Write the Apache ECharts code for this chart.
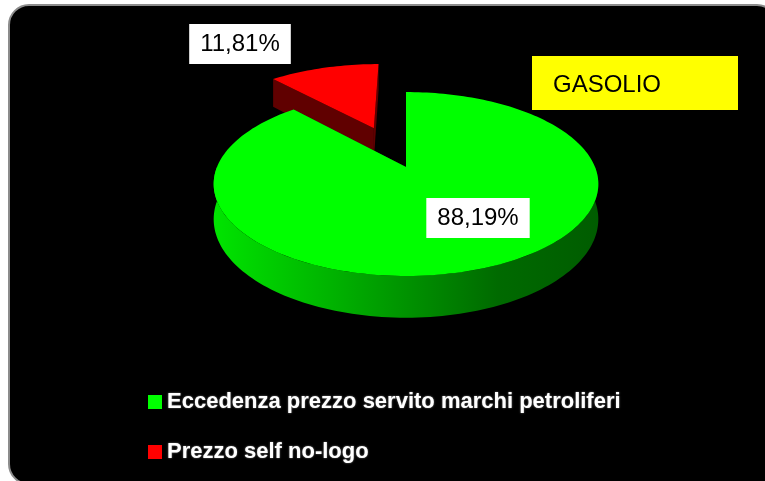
<!DOCTYPE html>
<html>
<head>
<meta charset="utf-8">
<script src="https://cdn.jsdelivr.net/npm/echarts@6/dist/echarts.min.js"></script>
<style>
  html, body { margin: 0; padding: 0; background: #fff; }
  #chart { width: 765px; height: 481px; }
</style>
</head>
<body>
<div id="chart"></div>
<script>
// Data (share of the gap, gasolio)
var categories = ['Eccedenza prezzo servito marchi petroliferi', 'Prezzo self no-logo'];
var values = [88.19, 11.81];
var title = 'GASOLIO';

// Styles / layout
var topColors = ['#00ff00', '#ff0000'];
var explodeBy = [0, 0.51];
var labelPos = [[478, 218], [240, 44]];
var FONT = '"Liberation Sans Narrow", "Liberation Sans", sans-serif';

// Simple perspective projection for a tilted disk.
// u: right, v: away from viewer, h: 0 top face .. 1 bottom face
var CX = 406, CY = 167, A = 88.8, B = 189, K = 0.185, D = 34;
function proj(u, v, h) {
  var s = 1 / (1 + K * v);
  return [CX + B * u * s, CY + (-A * v + D * h) * s];
}

var total = values.reduce(function (a, b) { return a + b; }, 0);
function fmt(v) { return v.toFixed(2).replace('.', ',') + '%'; }

function wallGradient(i) {
  if (i === 0) {
    return new echarts.graphic.LinearGradient(0, 0, 1, 0, [
      { offset: 0, color: '#00e400' },
      { offset: 0.3, color: '#00b400' },
      { offset: 0.56, color: '#008800' },
      { offset: 0.74, color: '#006a00' },
      { offset: 1, color: '#005c00' }
    ]);
  }
  return '#660000';
}

function renderSlice(i, value) {
  var before = 0;
  for (var k = 0; k < i; k++) before += values[k];
  var a0 = before / total * 360, a1 = a0 + value / total * 360;
  var mid = (a0 + a1) / 2 * Math.PI / 180;
  var ou = explodeBy[i] * Math.sin(mid), ov = explodeBy[i] * Math.cos(mid);
  function P(deg, r, h) {
    var t = deg * Math.PI / 180;
    return proj(ou + r * Math.sin(t), ov + r * Math.cos(t), h);
  }
  function arc(from, to, h) {
    var pts = [], n = Math.max(2, Math.ceil(Math.abs(to - from) / 1.5));
    for (var j = 0; j <= n; j++) pts.push(P(from + (to - from) * j / n, 1, h));
    return pts;
  }
  var zb = Math.round((1 - Math.cos(mid)) * 10);
  var wallFill = wallGradient(i);
  var children = [];
  // radial walls
  [a0, a1].forEach(function (ang) {
    children.push({
      type: 'polygon', z2: zb,
      shape: { points: [P(0, 0, 0), P(ang, 1, 0), P(ang, 1, 1), P(0, 0, 1)] },
      style: { fill: i === 0 ? '#007000' : '#600000' }
    });
  });
  // outer wall (front half only)
  var w0 = Math.max(a0, 90), w1 = Math.min(a1, 270);
  if (w1 > w0) {
    var pts = arc(w0, w1, 0).concat(arc(w1, w0, 1));
    children.push({ type: 'polygon', z2: zb + 1, shape: { points: pts }, style: { fill: wallFill } });
  }
  // top face
  children.push({
    type: 'polygon', z2: zb + 2,
    shape: { points: [P(0, 0, 0)].concat(arc(a0, a1, 0)) },
    style: { fill: topColors[i] }
  });
  // value label
  children.push({
    type: 'text', z2: 100,
    style: {
      text: fmt(value), x: labelPos[i][0], y: labelPos[i][1],
      align: 'center', verticalAlign: 'middle',
      font: '24px ' + FONT, fill: '#000',
      backgroundColor: '#fff', padding: [9, 11, 7, 11]
    }
  });
  return { type: 'group', children: children };
}

var chart = echarts.init(document.getElementById('chart'));
chart.setOption({
  animation: false,
  backgroundColor: '#fff',
  graphic: [
    {
      type: 'rect', z: -10, silent: true,
      shape: { x: 9, y: 5, width: 768, height: 479, r: 20 },
      style: { fill: '#000', stroke: '#8c8c8c', lineWidth: 2 }
    },
    {
      type: 'rect', z: 50,
      shape: { x: 532, y: 56, width: 206, height: 54 },
      style: { fill: '#ffff00' }
    },
    {
      type: 'text', z: 51,
      style: {
        text: title, x: 553, y: 85, verticalAlign: 'middle',
        font: '24px ' + FONT, fill: '#000'
      }
    }
  ],
  legend: {
    orient: 'vertical', left: 143, top: 385,
    icon: 'rect', itemWidth: 14, itemHeight: 14, itemGap: 26,
    textStyle: {
      color: '#fff', fontWeight: 'bold', fontSize: 22, lineHeight: 24,
      fontFamily: FONT, textShadowColor: 'rgba(160,160,160,0.8)', textShadowBlur: 2
    },
    data: categories
  },
  series: categories.map(function (name, i) {
    return {
      type: 'custom', name: name, coordinateSystem: 'none',
      itemStyle: { color: topColors[i] },
      data: [values[i]],
      renderItem: function (params, api) { return renderSlice(i, api.value(0)); }
    };
  })
});
</script>
</body>
</html>
